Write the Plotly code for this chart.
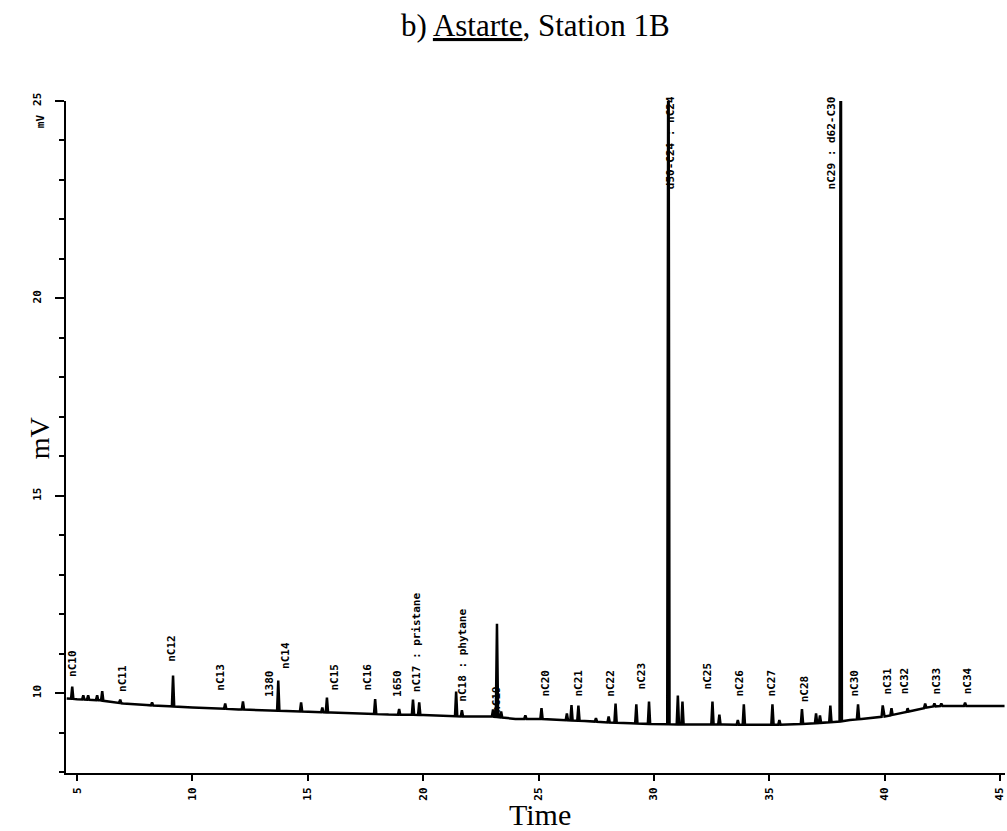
import numpy as np
import plotly.graph_objects as go

# ---- data ----
baseline_time = [4.55, 5.0, 6.0, 7.0, 8.0, 9.0, 10.0, 12.0, 14.0, 16.0, 17.0, 18.5, 20.0, 21.0,
                 22.0, 23.0, 24.0, 25.0, 26.0, 27.0, 28.0, 29.0, 30.0, 31.0, 33.0, 34.0, 35.0,
                 36.0, 37.0, 38.0, 38.5, 39.0, 40.0, 41.0, 42.0, 42.5, 43.0, 45.2]
baseline_mv = [9.87, 9.85, 9.82, 9.74, 9.70, 9.67, 9.64, 9.59, 9.55, 9.51, 9.49, 9.46, 9.45, 9.42,
               9.41, 9.41, 9.35, 9.35, 9.32, 9.30, 9.26, 9.24, 9.22, 9.21, 9.21, 9.20, 9.20,
               9.21, 9.24, 9.28, 9.32, 9.35, 9.41, 9.53, 9.66, 9.68, 9.68, 9.68]

peak_time = [4.79, 5.27, 5.48, 5.87, 6.09, 6.87, 8.25, 9.16, 11.42, 12.19, 13.72, 14.71, 15.63,
             15.83, 17.92, 18.96, 19.56, 19.83, 21.43, 21.68, 23.03, 23.20, 23.38, 24.43, 25.13,
             26.23, 26.43, 26.73, 27.49, 28.04, 28.34, 29.24, 29.79, 30.63, 31.04, 31.24, 32.54,
             32.84, 33.64, 33.90, 35.14, 35.44, 36.42, 37.03, 37.20, 37.65, 38.10, 38.85, 39.92,
             40.30, 41.00, 41.76, 42.16, 42.46, 43.49]
peak_apex = [10.17, 9.95, 9.95, 9.95, 10.05, 9.84, 9.77, 10.45, 9.74, 9.79, 10.32, 9.77, 9.64,
             9.89, 9.85, 9.60, 9.84, 9.77, 10.04, 9.57, 9.59, 11.76, 9.54, 9.44, 9.62,
             9.49, 9.70, 9.69, 9.37, 9.41, 9.74, 9.72, 9.79, 30.0, 9.94, 9.79, 9.79,
             9.46, 9.32, 9.72, 9.72, 9.32, 9.60, 9.49, 9.44, 9.69, 30.0, 9.72, 9.69,
             9.62, 9.62, 9.74, 9.74, 9.74, 9.76]

label_text = ["nC10", "nC11", "nC12", "nC13", "1380", "nC14", "nC15", "nC16", "1650",
              "nC17 : pristane", "nC18 : phytane", "nC19", "nC20", "nC21", "nC22", "nC23",
              "d50-C24 : nC24", "nC25", "nC26", "nC27", "nC28", "nC29 : d62-C30", "nC30",
              "nC31", "nC32", "nC33", "nC34"]
label_time = [4.83, 7.0, 9.12, 11.2, 13.37, 14.06, 16.18, 17.61, 18.91, 19.69, 21.73, 23.2,
              25.32, 26.75, 28.14, 29.48, 30.72, 32.34, 33.73, 35.11, 36.54, 37.71, 38.71,
              40.14, 40.87, 42.26, 43.6]
label_mv = [10.38, 10.0, 10.76, 10.03, 9.87, 10.58, 10.03, 10.03, 9.87, 10.0, 9.75, 9.49,
            9.9, 9.9, 9.9, 10.08, 22.74, 10.08, 9.9, 9.9, 9.75, 22.74, 9.9,
            9.95, 9.95, 9.95, 9.95]

x_ticks = [5, 10, 15, 20, 25, 30, 35, 40, 45]
y_ticks = [10, 15, 20, 25]

# ---- build the trace geometry ----
hw = 0.05
bt = np.array(baseline_time)
bv = np.array(baseline_mv)
pts = []
for t, v in zip(baseline_time, baseline_mv):
    if all(abs(t - p) > hw * 1.5 for p in peak_time):
        pts.append((t, v))
for t, a in zip(peak_time, peak_apex):
    pts.append((t - hw, float(np.interp(t - hw, bt, bv))))
    pts.append((t, a))
    pts.append((t + hw, float(np.interp(t + hw, bt, bv))))
pts.sort(key=lambda p: p[0])
xs = [p[0] for p in pts]
ys = [p[1] for p in pts]

fig = go.Figure()
fig.add_trace(go.Scatter(x=xs, y=ys, mode="lines",
                         line=dict(color="black", width=2.5), hoverinfo="skip",
                         showlegend=False))

lab_font = dict(family="DejaVu Sans Mono", size=11, color="black", weight="bold")
for txt, t, v in zip(label_text, label_time, label_mv):
    fig.add_annotation(x=t, y=v, xref="x", yref="y", text=txt, showarrow=False,
                       textangle=-90, xanchor="center", yanchor="bottom",
                       font=lab_font, borderpad=0)

tick_font = dict(family="DejaVu Sans Mono", size=11, color="black", weight="bold")

# "mV" unit beside the top tick
fig.add_annotation(x=0, y=24.49, xref="paper", yref="y", text="mV", showarrow=False,
                   textangle=-90, xanchor="center", yanchor="middle", xshift=-26,
                   font=tick_font)

# Axis titles and chart title
fig.add_annotation(x=0, y=16.46, xref="paper", yref="y", text="mV", showarrow=False,
                   textangle=-90, xanchor="center", yanchor="middle", xshift=-27,
                   font=dict(family="Liberation Serif", size=28, color="black"))
fig.add_annotation(x=25.07, y=0, xref="x", yref="paper", text="Time", showarrow=False,
                   xanchor="center", yanchor="middle", yshift=-41,
                   font=dict(family="Liberation Serif", size=30, color="black"))
fig.add_annotation(x=0.5, y=1, xref="paper", yref="paper",
                   text="b) <u>Astarte</u>, Station 1B", showarrow=False,
                   xanchor="center", yanchor="middle", yshift=76,
                   font=dict(family="Liberation Serif", size=31, color="black"))

fig.update_layout(
    width=1007, height=831,
    margin=dict(l=66, r=2, t=101, b=58, autoexpand=False),
    paper_bgcolor="white", plot_bgcolor="white",
    xaxis=dict(range=[4.52, 45.22], tickvals=x_ticks, ticktext=[str(v) for v in x_ticks],
               tickangle=-90, ticks="outside", ticklen=6, tickwidth=2, tickcolor="black",
               showline=True, linewidth=2, linecolor="black", showgrid=False,
               zeroline=False, tickfont=tick_font, ticklabelstandoff=2, automargin=False,
               ticklabeloverflow="allow"),
    yaxis=dict(range=[7.98, 25], tickvals=y_ticks, ticktext=[str(v) for v in y_ticks],
               tickangle=-90, ticks="outside", ticklen=9, tickwidth=2, tickcolor="black",
               showline=True, linewidth=2, linecolor="black", showgrid=False,
               zeroline=False, tickfont=tick_font, ticklabelstandoff=10, automargin=False,
               minor=dict(dtick=1, tick0=0, ticks="outside", ticklen=5, tickwidth=2,
                          tickcolor="black", showgrid=False)),
)

# remove the page's default body margin so the 1007x831 figure fills the window exactly
fig.write_html("out.html",
               config={"displayModeBar": False},
               post_script="document.body.style.margin='0';"
                           "document.body.style.overflow='hidden';")
